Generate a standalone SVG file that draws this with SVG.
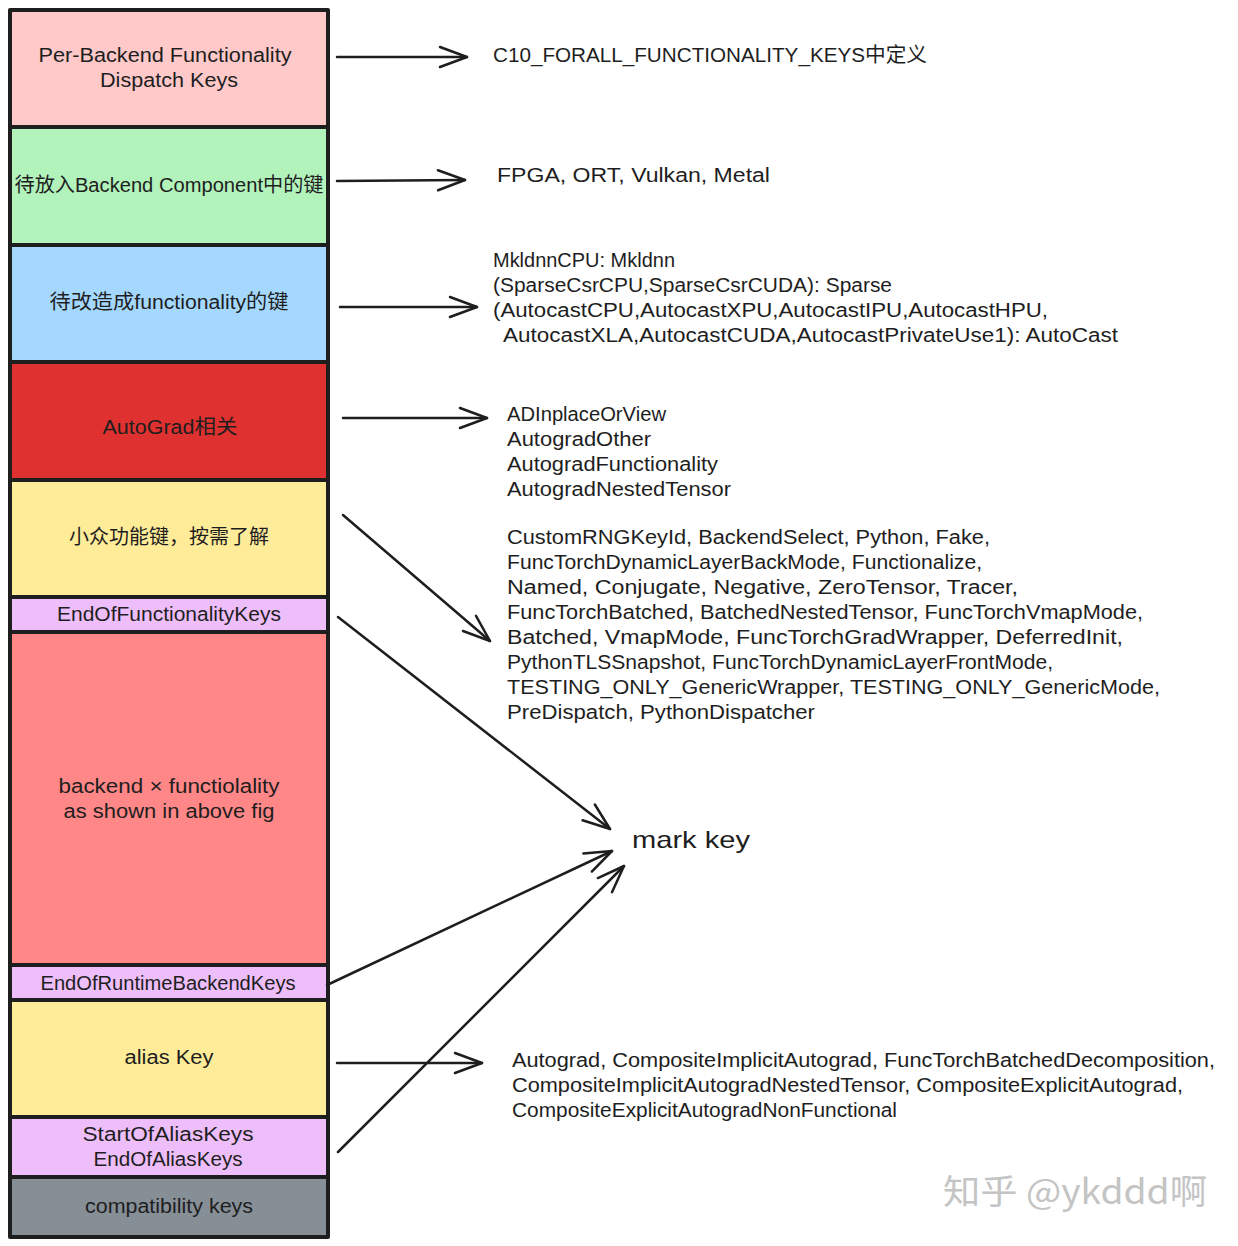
<svg xmlns="http://www.w3.org/2000/svg" width="1238" height="1246" viewBox="0 0 1238 1246">
<defs>
<style>
.box{stroke:#1e1e1e;stroke-width:4;stroke-linejoin:round}
.t{font-family:"Liberation Sans","Noto Sans CJK SC",sans-serif;font-size:20px;fill:#1e1e1e}
.c{text-anchor:middle}
.conn{stroke:#1e1e1e;stroke-width:2.5;fill:none;stroke-linecap:round}
.wm{font-family:"Noto Sans CJK SC","Liberation Sans",sans-serif;font-size:34px;fill:#c4c4c4}
</style>
<marker id="ah" markerUnits="userSpaceOnUse" markerWidth="40" markerHeight="40" refX="0" refY="0" orient="auto" overflow="visible">
<path d="M -27 -10 L 0 0 L -27 10" fill="none" stroke="#1e1e1e" stroke-width="2.5" stroke-linecap="round" stroke-linejoin="round"/>
</marker>
</defs>
<rect width="1238" height="1246" fill="#ffffff"/>

<g id="n-per-backend">
<rect class="box" x="10" y="10" width="318" height="117" fill="#ffc9c9"/>
<text class="t c" x="165" y="62" textLength="253" lengthAdjust="spacingAndGlyphs">Per-Backend Functionality</text>
<text class="t c" x="169" y="87" textLength="138" lengthAdjust="spacingAndGlyphs">Dispatch Keys</text>
</g>
<g id="n-backend-component">
<rect class="box" x="10" y="127" width="318" height="118" fill="#b2f2bb"/>
<text class="t c" x="169" y="192" textLength="309" lengthAdjust="spacingAndGlyphs">待放入Backend Component中的键</text>
</g>
<g id="n-functionality">
<rect class="box" x="10" y="245" width="318" height="117" fill="#a5d8ff"/>
<text class="t c" x="169" y="309" textLength="239" lengthAdjust="spacingAndGlyphs">待改造成functionality的键</text>
</g>
<g id="n-autograd">
<rect class="box" x="10" y="362" width="318" height="118" fill="#e03131"/>
<text class="t c" x="170" y="434" textLength="135" lengthAdjust="spacingAndGlyphs">AutoGrad相关</text>
</g>
<g id="n-minor">
<rect class="box" x="10" y="480" width="318" height="117" fill="#ffec99"/>
<text class="t c" x="169" y="544" textLength="200" lengthAdjust="spacingAndGlyphs">小众功能键，按需了解</text>
</g>
<g id="n-end-functionality">
<rect class="box" x="10" y="597" width="318" height="35" fill="#eebefa"/>
<text class="t c" x="169" y="621" textLength="224" lengthAdjust="spacingAndGlyphs">EndOfFunctionalityKeys</text>
</g>
<g id="n-backend-x-functionality">
<rect class="box" x="10" y="632" width="318" height="333" fill="#ff8787"/>
<text class="t c" x="169" y="793" textLength="221" lengthAdjust="spacingAndGlyphs">backend × functiolality</text>
<text class="t c" x="169" y="818" textLength="211" lengthAdjust="spacingAndGlyphs">as shown in above fig</text>
</g>
<g id="n-end-runtime">
<rect class="box" x="10" y="965" width="318" height="35" fill="#eebefa"/>
<text class="t c" x="168" y="990" textLength="255" lengthAdjust="spacingAndGlyphs">EndOfRuntimeBackendKeys</text>
</g>
<g id="n-alias">
<rect class="box" x="10" y="1000" width="318" height="117" fill="#ffec99"/>
<text class="t c" x="169" y="1064" textLength="89" lengthAdjust="spacingAndGlyphs">alias Key</text>
</g>
<g id="n-alias-bounds">
<rect class="box" x="10" y="1117" width="318" height="60" fill="#eebefa"/>
<text class="t c" x="168" y="1141" textLength="171" lengthAdjust="spacingAndGlyphs">StartOfAliasKeys</text>
<text class="t c" x="168" y="1166" textLength="149" lengthAdjust="spacingAndGlyphs">EndOfAliasKeys</text>
</g>
<g id="n-compat">
<rect class="box" x="10" y="1177" width="318" height="60" fill="#868e96"/>
<text class="t c" x="169" y="1213" textLength="168" lengthAdjust="spacingAndGlyphs">compatibility keys</text>
</g>

<g id="n-c10">
<text class="t" x="493" y="62" textLength="434" lengthAdjust="spacingAndGlyphs">C10_FORALL_FUNCTIONALITY_KEYS中定义</text>
</g>
<g id="n-fpga">
<text class="t" x="497" y="182" textLength="273" lengthAdjust="spacingAndGlyphs">FPGA, ORT, Vulkan, Metal</text>
</g>
<g id="n-mkldnn">
<text class="t" x="493" y="267" textLength="182" lengthAdjust="spacingAndGlyphs">MkldnnCPU: Mkldnn</text>
<text class="t" x="493" y="292" textLength="399" lengthAdjust="spacingAndGlyphs">(SparseCsrCPU,SparseCsrCUDA): Sparse</text>
<text class="t" x="493" y="317" textLength="555" lengthAdjust="spacingAndGlyphs">(AutocastCPU,AutocastXPU,AutocastIPU,AutocastHPU,</text>
<text class="t" x="503" y="342" textLength="615" lengthAdjust="spacingAndGlyphs">AutocastXLA,AutocastCUDA,AutocastPrivateUse1): AutoCast</text>
</g>
<g id="n-autograd-keys">
<text class="t" x="507" y="421" textLength="159" lengthAdjust="spacingAndGlyphs">ADInplaceOrView</text>
<text class="t" x="507" y="446" textLength="144" lengthAdjust="spacingAndGlyphs">AutogradOther</text>
<text class="t" x="507" y="471" textLength="211" lengthAdjust="spacingAndGlyphs">AutogradFunctionality</text>
<text class="t" x="507" y="496" textLength="224" lengthAdjust="spacingAndGlyphs">AutogradNestedTensor</text>
</g>
<g id="n-minor-keys">
<text class="t" x="507" y="544" textLength="483" lengthAdjust="spacingAndGlyphs">CustomRNGKeyId, BackendSelect, Python, Fake,</text>
<text class="t" x="507" y="569" textLength="475" lengthAdjust="spacingAndGlyphs">FuncTorchDynamicLayerBackMode, Functionalize,</text>
<text class="t" x="507" y="594" textLength="511" lengthAdjust="spacingAndGlyphs">Named, Conjugate, Negative, ZeroTensor, Tracer,</text>
<text class="t" x="507" y="619" textLength="636" lengthAdjust="spacingAndGlyphs">FuncTorchBatched, BatchedNestedTensor, FuncTorchVmapMode,</text>
<text class="t" x="507" y="644" textLength="616" lengthAdjust="spacingAndGlyphs">Batched, VmapMode, FuncTorchGradWrapper, DeferredInit,</text>
<text class="t" x="507" y="669" textLength="546" lengthAdjust="spacingAndGlyphs">PythonTLSSnapshot, FuncTorchDynamicLayerFrontMode,</text>
<text class="t" x="507" y="694" textLength="653" lengthAdjust="spacingAndGlyphs">TESTING_ONLY_GenericWrapper, TESTING_ONLY_GenericMode,</text>
<text class="t" x="507" y="719" textLength="308" lengthAdjust="spacingAndGlyphs">PreDispatch, PythonDispatcher</text>
</g>
<g id="n-mark-key">
<text class="t" x="632" y="848" style="font-size:24px" textLength="118" lengthAdjust="spacingAndGlyphs">mark key</text>
</g>
<g id="n-alias-keys">
<text class="t" x="512" y="1067" textLength="703" lengthAdjust="spacingAndGlyphs">Autograd, CompositeImplicitAutograd, FuncTorchBatchedDecomposition,</text>
<text class="t" x="512" y="1092" textLength="671" lengthAdjust="spacingAndGlyphs">CompositeImplicitAutogradNestedTensor, CompositeExplicitAutograd,</text>
<text class="t" x="512" y="1117" textLength="385" lengthAdjust="spacingAndGlyphs">CompositeExplicitAutogradNonFunctional</text>
</g>

<g id="connectors">
<line class="conn" x1="337" y1="57" x2="467" y2="57" marker-end="url(#ah)"/>
<line class="conn" x1="337" y1="181" x2="465" y2="180" marker-end="url(#ah)"/>
<line class="conn" x1="340" y1="307" x2="477" y2="307" marker-end="url(#ah)"/>
<line class="conn" x1="343" y1="418" x2="487" y2="418" marker-end="url(#ah)"/>
<line class="conn" x1="343" y1="515" x2="490" y2="641" marker-end="url(#ah)"/>
<line class="conn" x1="338" y1="617" x2="610" y2="829" marker-end="url(#ah)"/>
<line class="conn" x1="327" y1="985" x2="612" y2="851" marker-end="url(#ah)"/>
<line class="conn" x1="337" y1="1063" x2="482" y2="1063" marker-end="url(#ah)"/>
<line class="conn" x1="338" y1="1152" x2="624" y2="866" marker-end="url(#ah)"/>
</g>

<text class="wm" x="943" y="1204" textLength="264" lengthAdjust="spacingAndGlyphs">知乎 @ykddd啊</text>
</svg>
